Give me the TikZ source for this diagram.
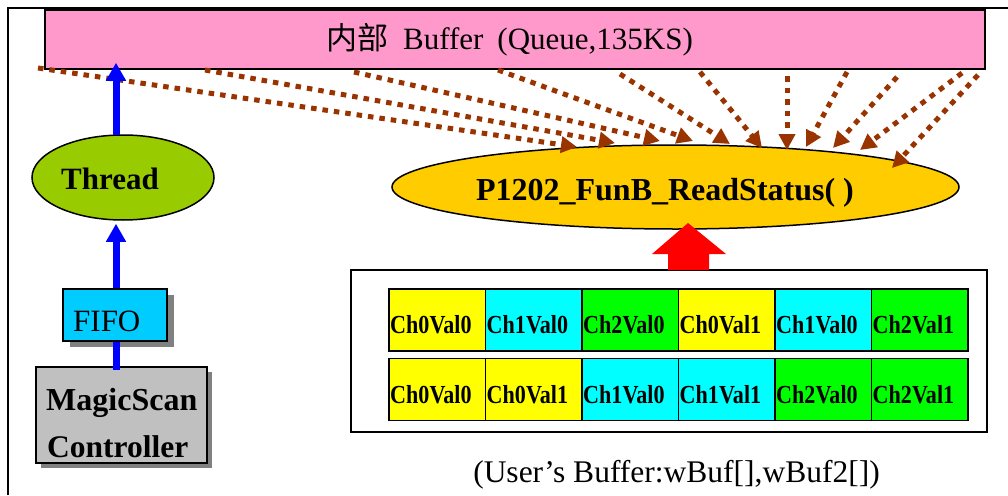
\documentclass[tikz,border=0pt]{standalone}
\usepackage{graphicx}
\usepackage{fontspec}
\setmainfont{Liberation Serif}
\newfontfamily\cjkfont{Noto Sans CJK SC}
\usetikzlibrary{arrows.meta,shapes.geometric,calc}
\definecolor{bufpink}{HTML}{FF99CC}
\definecolor{threadgreen}{HTML}{99CC00}
\definecolor{funcgold}{HTML}{FFCC00}
\definecolor{fifocyan}{HTML}{00CCFF}
\definecolor{ctrlgray}{HTML}{C0C0C0}
\definecolor{shadowgray}{HTML}{808080}
\definecolor{flowbrown}{HTML}{993300}
\definecolor{cellY}{HTML}{FFFF00}
\definecolor{cellC}{HTML}{00FFFF}
\definecolor{cellG}{HTML}{00FF00}
\newcommand\fsz[1]{\fontsize{#1}{#1}\selectfont}
\newcommand\celllabel[1]{\scalebox{0.85}[1]{\fsz{26}\bfseries #1}}

\begin{document}
\begin{tikzpicture}[x=1pt,y=-1pt,
  boxnode/.style={draw=black, line width=1.5pt, rectangle, inner sep=0pt},
  ovalnode/.style={draw=black, line width=1.5pt, ellipse, inner sep=0pt},
  shadowed/.style={preaction={fill=shadowgray, transform canvas={shift={(#1)}}}},
  txt/.style={anchor=base west, inner sep=0pt},
  cellbox/.style={draw=black, line width=1.5pt, inner sep=0pt,
    minimum width=96.5pt, minimum height=62pt, anchor=north west},
  flow/.style={draw=flowbrown, line width=5pt, dash pattern=on 5.5pt off 6pt,
    -{Triangle[length=16pt,width=16pt]}},
  bluelink/.style={draw=blue, line width=7pt},
  bluearrow/.style={bluelink, -{Triangle[length=18pt,width=19pt]}}
]
\useasboundingbox (0,0) rectangle (1008,495);

% frame
\draw[line width=1.5pt] (8,495) -- (8,8) -- (1008,8);

% internal queue buffer
\node[boxnode, fill=bufpink, minimum width=940pt, minimum height=59pt] (buf) at (515,39.5) {};
\node[anchor=base, inner sep=0pt, font=\fsz{31}] (buftext) at (509.5,49)
  {{\cjkfont 内部}\hspace{15pt}Buffer\hspace{14pt}(Queue,135KS)};

% thread
\node[ovalnode, fill=threadgreen, minimum width=182pt, minimum height=85pt] (thread) at (123,177.5) {};
\node[txt, font=\fsz{31}\bfseries] (threadtext) at (61,189) {Thread};

% read-status function
\node[ovalnode, fill=funcgold, minimum width=567pt, minimum height=84pt] (rs) at (675.5,187) {};
\node[anchor=base, inner sep=0pt, font=\fsz{32}\bfseries] (rstext) at (665,200) {P1202\_FunB\_ReadStatus( )};

% FIFO and controller
\node[boxnode, fill=fifocyan, shadowed={7pt,-6pt}, minimum width=104pt, minimum height=52pt] (fifo) at (115,315) {};
\node[txt, font=\fsz{31}] (fifotext) at (73,331) {FIFO};
\node[boxnode, fill=ctrlgray, shadowed={5pt,-5pt}, minimum width=171pt, minimum height=96pt] (ctrl) at (121.5,415) {};
\node[txt, font=\fsz{32}\bfseries] (ctrltext1) at (46,410) {MagicScan};
\node[txt, font=\fsz{31.5}\bfseries] (ctrltext2) at (47,457) {Controller};

% user buffers
\node[boxnode, line width=2pt, minimum width=636pt, minimum height=162pt] (ubuf) at (669,351) {};
\foreach \c/\col/\lab in {0/cellY/Ch0Val0, 1/cellC/Ch1Val0, 2/cellG/Ch2Val0,
                          3/cellY/Ch0Val1, 4/cellC/Ch1Val0, 5/cellG/Ch2Val1} {
  \node[cellbox, fill=\col] (a\c) at (388+96.5*\c,288) {};
  \node[txt] (at\c) at (390+96.5*\c,333) {\celllabel{\lab}};
}
\foreach \c/\col/\lab in {0/cellY/Ch0Val0, 1/cellY/Ch0Val1, 2/cellC/Ch1Val0,
                          3/cellC/Ch1Val1, 4/cellG/Ch2Val0, 5/cellG/Ch2Val1} {
  \node[cellbox, fill=\col] (b\c) at (388+96.5*\c,357.5) {};
  \node[txt] (bt\c) at (390+96.5*\c,403) {\celllabel{\lab}};
}
\node[anchor=base, inner sep=0pt, font=\fsz{31.5}] (caption) at (676.5,482)
  {(User’s Buffer:wBuf[],wBuf2[])};

% block arrow from user buffers into the function
\fill[red] (668,270) -- (668,254) -- (652,254) -- (688,223) -- (726,254)
  -- (709,254) -- (709,270) -- cycle;

% dotted data flows from the queue into the function
\foreach \i/\sx/\sy/\ex/\ey in {1/38/68/577/147, 2/205/70/615/143, 3/354/72/660/141,
    4/498/70/693/141, 5/620/74/730/144, 6/700/72/762/148, 7/787/76/787/150,
    8/847/72/806/147, 9/897/77/833/148, 10/962/73/860/150, 11/978/75/892/168} {
  \coordinate (src\i) at (\sx,\sy);
  \coordinate (dst\i) at (\ex,\ey);
  \draw[flow] (src\i) -- (dst\i);
}

% controller -> FIFO -> thread -> queue
\coordinate (bx) at (116,0);
\draw[bluelink] (bx |- fifo.south) -- ($(bx |- ctrl.north)+(0,4)$);
\draw[bluearrow] (bx |- fifo.north) -- ($(bx |- thread.south)+(0,3)$);
\draw[bluearrow] ($(bx |- thread.north)+(0,1)$) -- ($(bx |- buf.south)+(0,-7)$);
\end{tikzpicture}
\end{document}
